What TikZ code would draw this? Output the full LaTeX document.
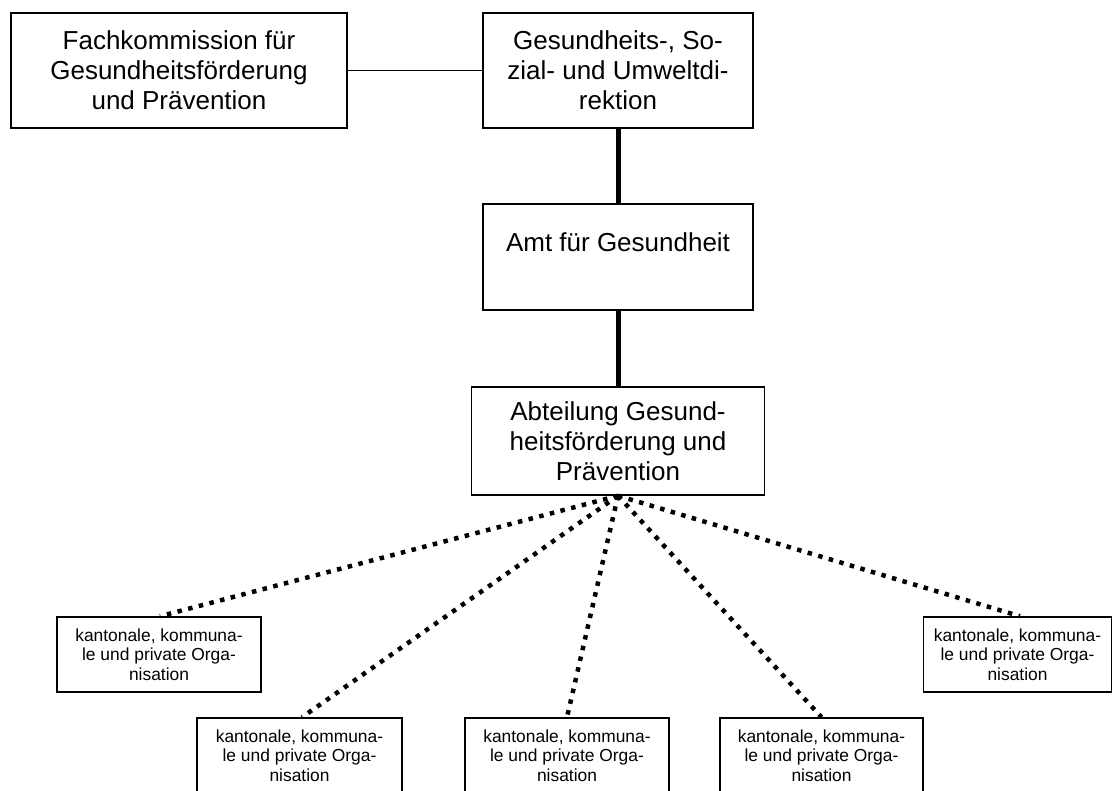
\documentclass[tikz,border=0pt]{standalone}
\usepackage{fontspec}
\setmainfont{Liberation Sans}
\begin{document}
\begin{tikzpicture}[x=1pt,y=-1pt,
  box/.style={draw,line width=1.5pt,rectangle,inner sep=0pt,align=center,
    font=\fontsize{26}{30}\selectfont},
  orgbox/.style={draw,line width=1.5pt,rectangle,inner sep=0pt,align=center,
    minimum width=204pt,minimum height=75pt,text depth=0pt,
    font=\fontsize{17.4}{19.5}\selectfont},
  thinlink/.style={line width=1.3pt},
  thicklink/.style={line width=5pt},
  dotlink/.style={line width=4.5pt,dash pattern=on 4.5pt off 6.5pt}]
\useasboundingbox (0,0) rectangle (1112,791);
\clip (0,0) rectangle (1112,791);

% leadership level
\node[box,minimum width=336pt,minimum height=115pt] (fk) at (179,70.5)
  {Fachkommission für\\Gesundheitsförderung\\und Prävention};
\node[box,minimum width=270pt,minimum height=115pt] (gsu) at (618,70.5)
  {Gesundheits-, So-\\zial- und Umweltdi-\\rektion};
\node[box,minimum width=270pt,minimum height=106pt] (amt) at (618,257)
  {Amt für Gesundheit\\[-10pt]\strut};
\node[box,minimum width=293pt,minimum height=108pt] (abt) at (618,441)
  {Abteilung Gesund-\\heitsförderung und\\Prävention};

% partner organisations
\node[orgbox] (o1) at (159,654.5)
  {kantonale, kommuna-\\le und private Orga-\\nisation};
\node[orgbox,minimum width=205pt] (o2) at (299.5,755.5)
  {kantonale, kommuna-\\le und private Orga-\\nisation};
\node[orgbox] (o3) at (567,755.5)
  {kantonale, kommuna-\\le und private Orga-\\nisation};
\node[orgbox,minimum width=203pt] (o4) at (821.5,755.5)
  {kantonale, kommuna-\\le und private Orga-\\nisation};
\node[orgbox,minimum width=188pt] (o5) at (1017.5,654.5)
  {kantonale, kommuna-\\le und private Orga-\\nisation};

% connectors
\draw[thinlink] (fk.east) -- (gsu.west);
\draw[thicklink] (gsu.south) -- (amt.north);
\draw[thicklink] (amt.south) -- (abt.north);
\coordinate (hub) at (abt.south);
\draw[dotlink] (hub) -- ([xshift=1pt]o1.north);
\draw[dotlink] (hub) -- ([xshift=2.5pt]o2.north);
\draw[dotlink] (hub) -- (o3.north);
\draw[dotlink] (hub) -- (o4.north);
\draw[dotlink] (hub) -- ([xshift=2.5pt]o5.north);
\end{tikzpicture}
\end{document}
